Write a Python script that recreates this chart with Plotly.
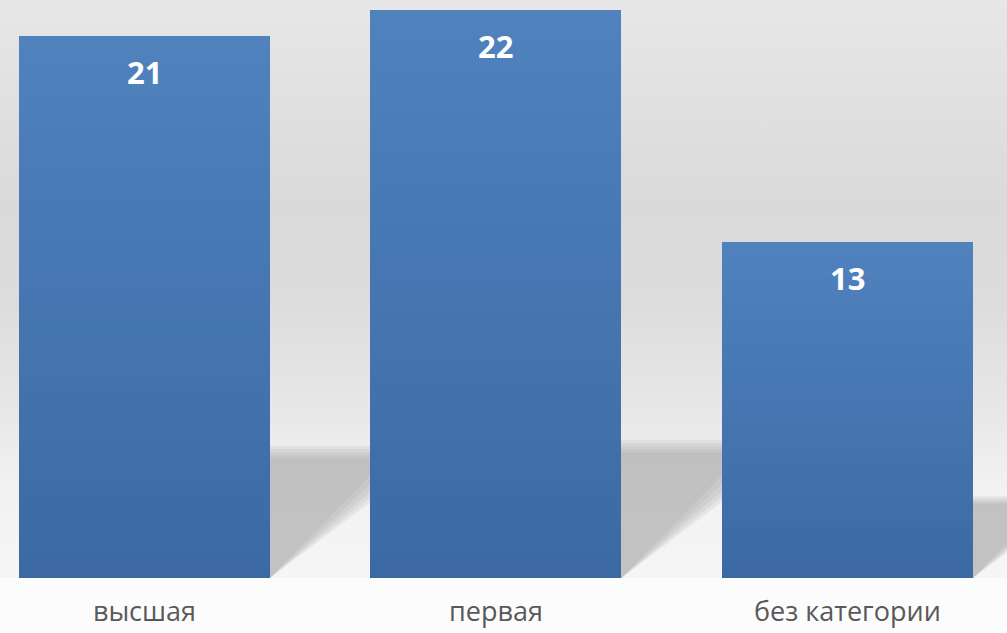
import base64
import plotly.graph_objects as go

# ---- data ----
categories = ["высшая", "первая", "без категории"]
values = [21, 22, 13]

# ---- style ----
N_SEG = 40
TOP_COLOR = (80, 130, 190)
BOT_COLOR = (60, 105, 163)
BAR_WIDTH = 0.714
SHADOW_RATIO = 0.232      # shadow height relative to bar value
SHADOW_SKEW = 0.085       # horizontal skew (category units per data unit)


def lerp(c1, c2, t):
    return "rgb(%d,%d,%d)" % tuple(round(a + (b - a) * t) for a, b in zip(c1, c2))


fig = go.Figure()

# gradient bars: each bar split into equal stacked bands (light at top, dark at base)
for k in range(N_SEG):
    t = 1 - (k + 0.5) / N_SEG
    fig.add_trace(go.Bar(
        x=categories,
        y=[v / N_SEG for v in values],
        width=BAR_WIDTH,
        marker=dict(color=lerp(TOP_COLOR, BOT_COLOR, t), line=dict(width=0)),
        hoverinfo="skip",
        showlegend=False,
    ))

# value labels inside bars near top
for i, (c, v) in enumerate(zip(categories, values)):
    fig.add_annotation(
        x=i, y=v, xref="x", yref="y", text="<b>%d</b>" % v,
        showarrow=False, yanchor="middle", yshift=-36,
        font=dict(family="Open Sans", size=31, color="white"),
    )

# soft perspective shadows behind bars (derived from values)
shapes = []
for i, v in enumerate(values):
    for j, (fs, fd) in enumerate([(0.95, 0.8), (0.975, 0.9), (1.0, 1.0), (1.025, 1.1), (1.05, 1.2)]):
        s = SHADOW_RATIO * v * fs
        dx = SHADOW_SKEW * SHADOW_RATIO * v * fd
        x0 = i - BAR_WIDTH / 2
        x1 = i + BAR_WIDTH / 2
        path = "M %f,0 L %f,0 L %f,%f L %f,%f Z" % (x0, x1, x1 + dx, s, x0 + dx, s)
        shapes.append(dict(type="path", path=path, xref="x", yref="y", layer="below",
                           fillcolor="rgba(150,150,150,0.13)", line=dict(width=0)))

# background gradient for plot area
svg = (
    '<svg xmlns="http://www.w3.org/2000/svg" width="10" height="100" preserveAspectRatio="none">'
    '<defs><linearGradient id="g" x1="0" y1="0" x2="0" y2="1">'
    '<stop offset="0" stop-color="#e7e7e7"/>'
    '<stop offset="0.35" stop-color="#dadada"/>'
    '<stop offset="0.52" stop-color="#dcdcdc"/>'
    '<stop offset="0.72" stop-color="#e8e8e8"/>'
    '<stop offset="0.83" stop-color="#f1f1f1"/>'
    '<stop offset="1" stop-color="#f6f6f6"/>'
    '</linearGradient></defs>'
    '<rect width="10" height="100" fill="url(#g)"/></svg>'
)
src = "data:image/svg+xml;base64," + base64.b64encode(svg.encode()).decode()

fig.update_layout(
    width=1007, height=633,
    margin=dict(l=0, r=0, t=0, b=55, autoexpand=False),
    barmode="stack",
    bargap=0,
    paper_bgcolor="#fcfcfc",
    plot_bgcolor="rgba(0,0,0,0)",
    shapes=shapes,
    images=[dict(source=src, xref="paper", yref="paper", x=0, y=1, sizex=1, sizey=1,
                 sizing="stretch", xanchor="left", yanchor="top", layer="below")],
    xaxis=dict(range=[-0.411, 2.454], showgrid=False, zeroline=False, showline=False,
               ticks="", tickfont=dict(family="Open Sans", size=27, color="#595959"),
               ticklabelstandoff=15, automargin=False, fixedrange=True),
    yaxis=dict(range=[0, 22.39], visible=False, automargin=False, fixedrange=True),
    showlegend=False,
)

fig.write_html("out.html", config={"displayModeBar": False},
               post_script="document.body.style.margin='0';document.body.style.padding='0';")
